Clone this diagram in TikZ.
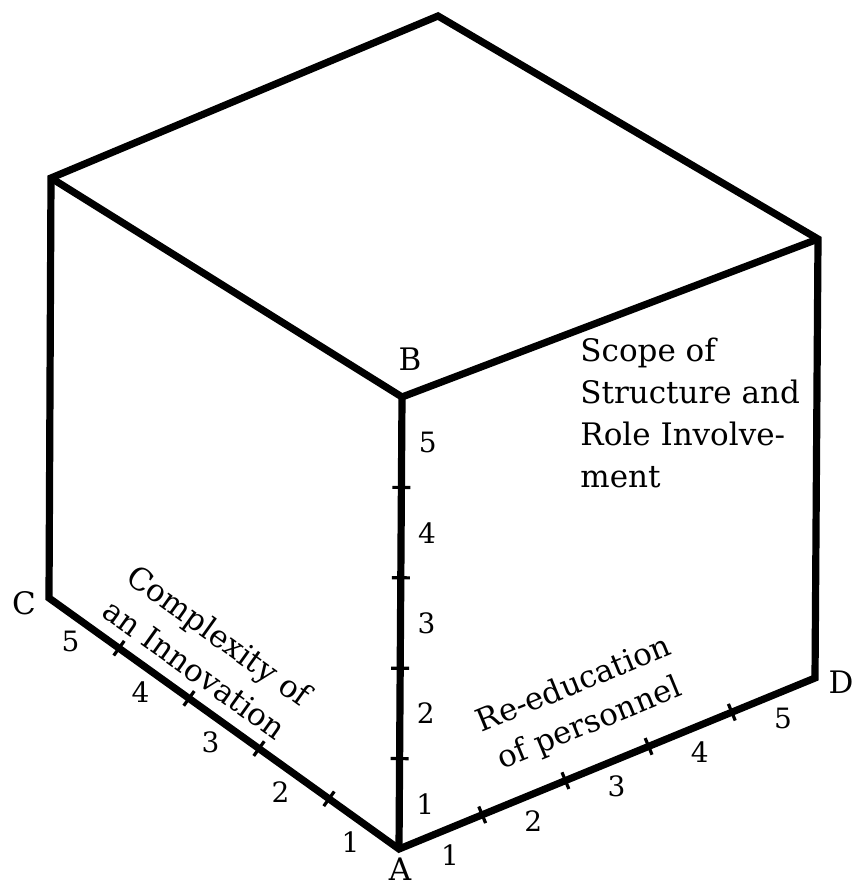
\documentclass[tikz,border=0pt]{standalone}
\usepackage{fontspec}
\setmainfont{DejaVu Serif}
\usetikzlibrary{calc}
\tikzset{
  cubeedge/.style  = {line width=3.6pt, line join=miter},
  scaletick/.style = {line width=1.6pt},
  scalenum/.style  = {font=\fontsize{14}{14}\selectfont, inner sep=0pt},
  cornerlab/.style = {font=\fontsize{15.5}{15.5}\selectfont, inner sep=0pt},
  axislab/.style   = {font=\fontsize{15.5}{21}\selectfont, align=center, inner sep=0pt},
}

\begin{document}
\begin{tikzpicture}[x=0.5pt, y=-0.5pt]
  \useasboundingbox (0,0) rectangle (861,888);

  % corners of the cube
  \coordinate (A) at (399,849);
  \coordinate (B) at (402,397);
  \coordinate (C) at (49,598);
  \coordinate (D) at (815,678);
  \coordinate (L) at (51,178);
  \coordinate (T) at (438,16);
  \coordinate (R) at (818,239);

  \draw[cubeedge] (C) -- (L) -- (T) -- (R) -- (D) -- (A) -- cycle;
  \draw[cubeedge] (L) -- (B) -- (R);
  \draw[cubeedge] (A) -- (B);

  % scale marks on the three axes
  \foreach \a/\b in {C/A, A/D, A/B}
    \foreach \i in {1,...,4}
      \draw[scaletick] ($(\a)!{\i/5}!(\b)!4.5pt!90:(\b)$) -- ($(\a)!{\i/5}!(\b)!4.5pt!-90:(\b)$);

  \foreach \k in {1,...,5} {
    \node[scalenum] (nd\k) at ($(A)!{(\k-0.5)/5}!(D)!12.5pt!-90:(D)$) {\k};
    \node[scalenum] (nb\k) at ($(A)!{(\k-0.5)/5}!(B)!13pt!-90:(B)$) {\k};
    \node[scalenum] (nc\k) at ($(A)!{(\k-0.5)/5}!(C)!11.5pt!90:(C)$) {\k};
  }

  \node[cornerlab] (labA) at (400,869) {A};
  \node[cornerlab] (labB) at (410,359) {B};
  \node[cornerlab] (labC) at (24,603) {C};
  \node[cornerlab] (labD) at (841,682) {D};

  \node[axislab, rotate=-35.6] (cplx) at (207,652) {Complexity of\\an Innovation};
  \node[axislab, rotate=22.3] (reedu) at (582,705) {Re-education\\of personnel};
  \node[axislab, align=left, anchor=north west] (scope) at (580,338)
       {Scope of\\Structure and\\Role Involve-\\ment};
\end{tikzpicture}
\end{document}
